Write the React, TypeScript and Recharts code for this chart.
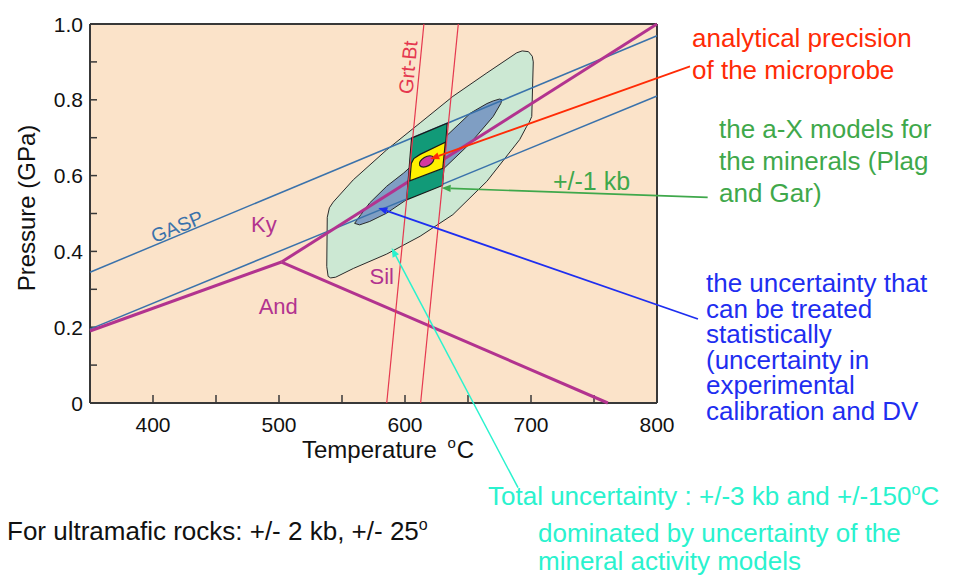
import React from 'react'
import { ScatterChart, Scatter, XAxis, YAxis, CartesianGrid, ReferenceLine } from 'recharts'

const FONT = '"Liberation Sans", Arial, Helvetica, sans-serif'
const W = 953
const H = 576
const PLOT = { left: 90, top: 24, right: 657, bottom: 403 }

// axes
const tempTicks = [350, 400, 450, 500, 550, 600, 650, 700, 750, 800]
const tempLabels = [400, 500, 600, 700, 800]
const pressureTicks = [0, 0.1, 0.2, 0.3, 0.4, 0.5, 0.6, 0.7, 0.8, 0.9, 1.0]
const pressureLabels = ['0', '', '0.2', '', '0.4', '', '0.6', '', '0.8', '', '1.0']

// Al2SiO5 reactions
const kyAnd = [{ T: 350, p: 0.19 }, { T: 502, p: 0.372 }]
const kySil = [{ T: 502, p: 0.372 }, { T: 800, p: 1.0 }]
const andSil = [{ T: 502, p: 0.372 }, { T: 761, p: 0 }]

// GASP barometer and Grt-Bt thermometer bands
const gaspUpper = [{ T: 350, p: 0.345 }, { T: 800, p: 0.969 }]
const gaspLower = [{ T: 350, p: 0.195 }, { T: 800, p: 0.81 }]
const grtBtLeft = [{ T: 585.5, p: 0 }, { T: 615, p: 1.0 }]
const grtBtRight = [{ T: 612.4, p: 0 }, { T: 642.3, p: 1.0 }]

// uncertainty regions (outlines)
const totalEnvelope = [
  { T: 539, p: 0.334 }, { T: 537.9, p: 0.36 }, { T: 538.3, p: 0.49 }, { T: 540, p: 0.515 },
  { T: 543, p: 0.53 }, { T: 559, p: 0.589 }, { T: 585.5, p: 0.668 }, { T: 612, p: 0.739 },
  { T: 638, p: 0.809 }, { T: 665, p: 0.871 }, { T: 688.7, p: 0.924 }, { T: 693, p: 0.929 },
  { T: 698, p: 0.927 }, { T: 701, p: 0.915 }, { T: 701.8, p: 0.9 }, { T: 700.6, p: 0.756 },
  { T: 698.5, p: 0.74 }, { T: 696.6, p: 0.73 }, { T: 691, p: 0.695 }, { T: 665, p: 0.585 },
  { T: 638, p: 0.497 }, { T: 612, p: 0.44 }, { T: 585.5, p: 0.393 }, { T: 559, p: 0.355 },
  { T: 545, p: 0.332 }, { T: 541, p: 0.33 },
]
const statLens = [
  { T: 560, p: 0.474 }, { T: 565, p: 0.497 }, { T: 572, p: 0.528 }, { T: 585.5, p: 0.572 },
  { T: 599, p: 0.607 }, { T: 615, p: 0.655 }, { T: 633, p: 0.705 }, { T: 652, p: 0.765 },
  { T: 665, p: 0.79 }, { T: 670, p: 0.797 }, { T: 675, p: 0.802 }, { T: 677, p: 0.8 },
  { T: 676, p: 0.79 }, { T: 670, p: 0.756 }, { T: 652, p: 0.686 }, { T: 630, p: 0.616 },
  { T: 601, p: 0.536 }, { T: 585.5, p: 0.501 }, { T: 572, p: 0.479 }, { T: 564, p: 0.47 },
]
const oneKbBox = [{ T: 605.2, p: 0.699 }, { T: 633.5, p: 0.738 }, { T: 629.8, p: 0.574 }, { T: 601.3, p: 0.536 }]
const modelBox = [
  { T: 603.8, p: 0.586 }, { T: 605, p: 0.632 }, { T: 607, p: 0.645 }, { T: 612, p: 0.656 },
  { T: 632, p: 0.688 }, { T: 630, p: 0.619 },
]
const probeSpot = [{ T: 617.2, p: 0.6375 }]

// labels inside the plot
const fieldLabels = [
  { T: 488, p: 0.47, text: 'Ky' },
  { T: 581.5, p: 0.333, text: 'Sil' },
  { T: 499.4, p: 0.254, text: 'And' },
  { T: 419, p: 0.466, text: 'GASP' },
  { T: 602.4, p: 0.886, text: 'Grt-Bt' },
]

// annotation arrows (tail -> head)
const arrows = [
  { key: 'probe', from: { T: 826.2, p: 0.888 }, to: { T: 620, p: 0.644 } },
  { key: 'ax', from: { T: 840.2, p: 0.5425 }, to: { T: 629.1, p: 0.567 } },
  { key: 'stat', from: { T: 832.5, p: 0.2216 }, to: { T: 578.8, p: 0.5145 } },
  { key: 'total', from: { T: 689.7, p: -0.2235 }, to: { T: 589.4, p: 0.409 } },
]

const C = {
  bg: '#FBE3C9',
  frame: '#383838',
  envelope: '#CCE8D3',
  lens: '#7F9EC3',
  box: '#119A78',
  yellow: '#FFF000',
  spot: '#D43AA0',
  alsi: '#B2338F',
  gasp: '#3A72AB',
  grtbt: '#E5384F',
  red: '#FF2B06',
  green: '#3FA84B',
  blue: '#1E2EF0',
  cyan: '#2AF2CE',
}

const ARROW_STYLE: Record<string, { color: string; width: number }> = {
  probe: { color: C.red, width: 1.8 },
  ax: { color: C.green, width: 1.6 },
  stat: { color: C.blue, width: 1.8 },
  total: { color: C.cyan, width: 1.5 },
}

const LABEL_STYLE: Record<string, { color: string; size: number; angle: number }> = {
  Ky: { color: C.alsi, size: 22, angle: 0 },
  Sil: { color: C.alsi, size: 22, angle: 0 },
  And: { color: C.alsi, size: 22, angle: 0 },
  GASP: { color: C.gasp, size: 19.5, angle: -22.6 },
  'Grt-Bt': { color: C.grtbt, size: 20, angle: -84.4 },
}

const noDot = () => <g />

const PressureTick = ({ y, index }: any) => {
  const label = pressureLabels[index]
  if (!label) return <g />
  return (
    <text x={PLOT.left - 7} y={y} textAnchor="end" dominantBaseline="central" fontSize={21} fill="#111" fontFamily={FONT}>
      {label}
    </text>
  )
}

const TempTick = ({ x, payload }: any) => {
  if (!tempLabels.includes(payload.value)) return <g />
  return (
    <text x={x} y={PLOT.bottom + 29} textAnchor="middle" fontSize={21} fill="#111" fontFamily={FONT}>
      {payload.value}
    </text>
  )
}

const LabelShape = ({ cx, cy, payload }: any) => {
  const s = LABEL_STYLE[payload.text]
  return (
    <text
      transform={`translate(${cx},${cy}) rotate(${s.angle})`}
      textAnchor="middle"
      dominantBaseline="central"
      fontSize={s.size}
      fill={s.color}
      fontFamily={FONT}
    >
      {payload.text}
    </text>
  )
}

const SpotShape = ({ cx, cy }: any) => (
  <ellipse cx={cx} cy={cy} rx={8} ry={4.6} transform={`rotate(-30 ${cx} ${cy})`} fill={C.spot} stroke="#222" strokeWidth={1.2} />
)

const arrowShape = (key: string) => (props: any) => {
  const { x1, y1, x2, y2 } = props
  const { color, width } = ARROW_STYLE[key]
  const a = Math.atan2(y2 - y1, x2 - x1)
  const len = 9
  const half = 3.6
  const bx = x2 - len * Math.cos(a)
  const by = y2 - len * Math.sin(a)
  const px = -Math.sin(a) * half
  const py = Math.cos(a) * half
  return (
    <g>
      <line x1={x1} y1={y1} x2={bx} y2={by} stroke={color} strokeWidth={width} />
      <polygon points={`${x2},${y2} ${bx + px},${by + py} ${bx - px},${by - py}`} fill={color} />
    </g>
  )
}

const region = (fill: string, stroke = '#2a2a2a', width = 1) => ({ fill, stroke, strokeWidth: width })
const stroke = (color: string, width: number) => ({ stroke: color, strokeWidth: width, fill: 'none' })

export default function App() {
  return (
    <div style={{ position: 'absolute', left: 0, top: 0, width: W, height: H, background: '#fff', fontFamily: FONT }}>
      <ScatterChart width={W} height={H} margin={{ top: 14, right: 286, bottom: 133, left: 30 }}>
        <CartesianGrid horizontal={false} vertical={false} fill={C.bg} />
        <XAxis
          type="number" dataKey="T" domain={[350, 800]} ticks={tempTicks} interval={0}
          height={40} tickSize={-8} tick={<TempTick />}
          axisLine={{ stroke: C.frame, strokeWidth: 2 }} tickLine={{ stroke: C.frame, strokeWidth: 1.5 }}
        />
        <XAxis
          xAxisId="top" orientation="top" type="number" domain={[350, 800]} allowDataOverflow
          ticks={tempTicks} interval={0} height={10} tickSize={-8} tick={false}
          axisLine={{ stroke: C.frame, strokeWidth: 2 }} tickLine={{ stroke: C.frame, strokeWidth: 1.5 }}
        />
        <YAxis
          type="number" dataKey="p" domain={[0, 1]} ticks={pressureTicks} interval={0}
          width={60} tickSize={-7} tick={<PressureTick />}
          axisLine={{ stroke: C.frame, strokeWidth: 2 }} tickLine={{ stroke: C.frame, strokeWidth: 1.5 }}
        />
        <YAxis
          yAxisId="right" orientation="right" type="number" domain={[0, 1]} allowDataOverflow
          ticks={pressureTicks} interval={0} width={10} tickSize={-7} tick={false}
          axisLine={{ stroke: C.frame, strokeWidth: 2 }} tickLine={{ stroke: C.frame, strokeWidth: 1.5 }}
        />

        <Scatter data={totalEnvelope} shape={noDot} line={region(C.envelope)} lineJointType="linearClosed" isAnimationActive={false} />
        <Scatter data={statLens} shape={noDot} line={region(C.lens)} lineJointType="linearClosed" isAnimationActive={false} />

        <Scatter data={gaspUpper} shape={noDot} line={stroke(C.gasp, 1.5)} isAnimationActive={false} />
        <Scatter data={gaspLower} shape={noDot} line={stroke(C.gasp, 1.5)} isAnimationActive={false} />
        <Scatter data={kyAnd} shape={noDot} line={stroke(C.alsi, 3)} isAnimationActive={false} />
        <Scatter data={kySil} shape={noDot} line={stroke(C.alsi, 3)} isAnimationActive={false} />
        <Scatter data={andSil} shape={noDot} line={stroke(C.alsi, 3)} isAnimationActive={false} />

        <Scatter data={oneKbBox} shape={noDot} line={region(C.box, '#1a1a1a', 1.2)} lineJointType="linearClosed" isAnimationActive={false} />
        <Scatter data={modelBox} shape={noDot} line={region(C.yellow, '#1a1a1a', 1.2)} lineJointType="linearClosed" isAnimationActive={false} />
        <Scatter data={probeSpot} shape={<SpotShape />} isAnimationActive={false} />

        <Scatter data={grtBtLeft} shape={noDot} line={stroke(C.grtbt, 1.2)} isAnimationActive={false} />
        <Scatter data={grtBtRight} shape={noDot} line={stroke(C.grtbt, 1.2)} isAnimationActive={false} />

        <Scatter data={fieldLabels} shape={<LabelShape />} isAnimationActive={false} />

        {arrows.map((a) => (
          <ReferenceLine
            key={a.key}
            segment={[{ x: a.from.T, y: a.from.p }, { x: a.to.T, y: a.to.p }]}
            ifOverflow="visible"
            zIndex={1500}
            shape={arrowShape(a.key)}
          />
        ))}
      </ScatterChart>

      <svg width={W} height={H} style={{ position: 'absolute', left: 0, top: 0, pointerEvents: 'none' }} fontFamily={FONT}>
        <text transform="translate(35,208) rotate(-90)" textAnchor="middle" fontSize={24} fill="#111">Pressure (GPa)</text>
        <text x={302} y={458} fontSize={24} fill="#111">
          Temperature <tspan fontSize={15} dx={4} dy={-10}>o</tspan><tspan dx={1} dy={10}>C</tspan>
        </text>

        <text x={553} y={190} fontSize={25} fill={C.green}>+/-1 kb</text>

        <text x={692} y={47} fontSize={26} fill={C.red}>analytical precision</text>
        <text x={692} y={79} fontSize={26} fill={C.red}>of the microprobe</text>

        <text x={719} y={138} fontSize={26} fill={C.green}>the a-X models for</text>
        <text x={719} y={170} fontSize={26} fill={C.green}>the minerals (Plag</text>
        <text x={719} y={202} fontSize={26} fill={C.green}>and Gar)</text>

        {['the uncertainty that', 'can be treated', 'statistically', '(uncertainty in', 'experimental', 'calibration and DV'].map((t, i) => (
          <text key={t} x={706} y={292 + i * 25.6} fontSize={26} fill={C.blue}>{t}</text>
        ))}

        <text x={488} y={505} fontSize={26} fill={C.cyan}>
          Total uncertainty : +/-3 kb and +/-150<tspan fontSize={16} dy={-10}>o</tspan><tspan dy={10}>C</tspan>
        </text>
        <text x={538} y={542} fontSize={26} fill={C.cyan}>dominated by uncertainty of the</text>
        <text x={538} y={570} fontSize={26} fill={C.cyan}>mineral activity models</text>

        <text x={7} y={540} fontSize={26} fill="#111">
          For ultramafic rocks: +/- 2 kb, +/- 25<tspan fontSize={16} dy={-10}>o</tspan>
        </text>
      </svg>
    </div>
  )
}
